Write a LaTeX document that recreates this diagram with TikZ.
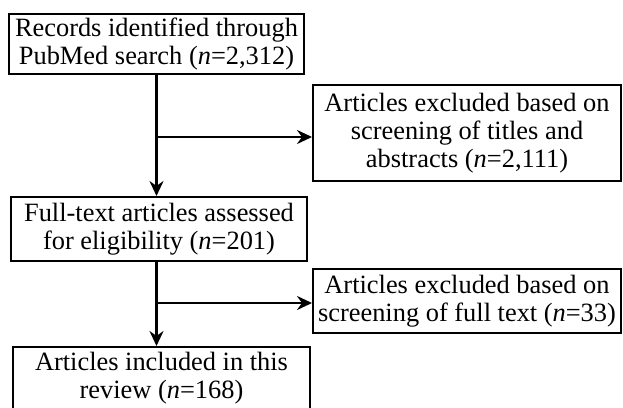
\documentclass[tikz,border=0pt]{standalone}
\usepackage{fontspec}
\setmainfont{Liberation Serif}
\usetikzlibrary{arrows.meta}
\begin{document}
\begin{tikzpicture}[x=1pt,y=-1pt,
  box/.style={draw,line width=2pt,inner sep=0pt,align=center,font=\fontsize{26.4}{28}\selectfont},
  conn/.style={line width=2.6pt,-{Stealth[length=15pt,width=14pt,inset=5pt]}}]
\useasboundingbox (0,0) rectangle (623,407);
\clip (0,0) rectangle (623,407);
\node[box,minimum width=295pt,minimum height=60pt] (b1) at (156.5,44) {Records identified through\\PubMed search (\textit{n}=2,312)};
\node[box,minimum width=308pt,minimum height=96pt] (b2) at (467,133) {Articles excluded based on\\screening of titles and\\abstracts (\textit{n}=2,111)};
\node[box,minimum width=296pt,minimum height=64pt] (b3) at (159,229) {Full-text articles assessed\\for eligibility (\textit{n}=201)};
\node[box,minimum width=308pt,minimum height=64pt] (b4) at (467,301) {Articles excluded based on\\screening of full text (\textit{n}=33)};
\node[box,minimum width=297pt,minimum height=62pt] (b5) at (161.5,378) {Articles included in this\\review (\textit{n}=168)};
\coordinate (j1) at (156.5,137);
\coordinate (j2) at (156.5,303);
\draw[conn] (b1.south -| j1) -- (b3.north -| j1);
\draw[conn] (j1) -- (j1 -| b2.west);
\draw[conn] (b3.south -| j2) -- (b5.north -| j2);
\draw[conn] (j2) -- (j2 -| b4.west);
\end{tikzpicture}
\end{document}
